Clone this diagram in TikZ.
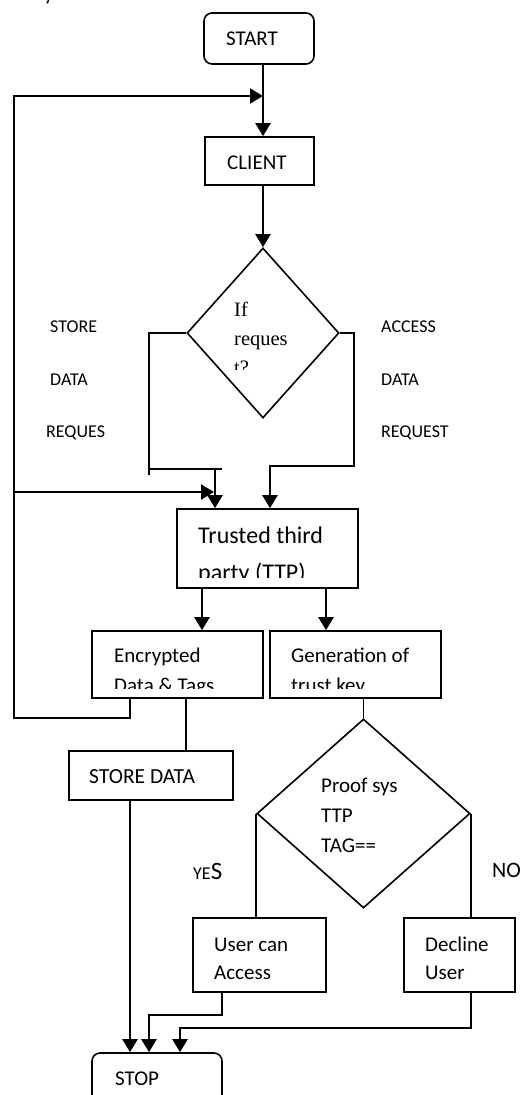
\documentclass[tikz,border=0pt]{standalone}
\usepackage{fontspec}
\setmainfont{Carlito}
\newfontfamily\timesfont{Liberation Serif}
\usetikzlibrary{shapes.geometric,arrows.meta}

\tikzset{
  box/.style={draw, rectangle, line width=1.6pt, inner sep=0pt},
  term/.style={box, rounded corners=8pt},
  dec/.style={draw, diamond, line width=1.6pt, inner sep=0pt},
  flow/.style={line width=2.3pt, -{Triangle[length=13pt,width=15pt]}},
  rail/.style={line width=2pt},
  link/.style={line width=1.7pt},
  txt/.style={anchor=base west, inner sep=0pt, font=\fontsize{21}{25}\selectfont},
  lbl/.style={txt, font=\fontsize{18}{22}\selectfont},
  big/.style={txt, font=\fontsize{24}{28}\selectfont},
  serif/.style={txt, font=\timesfont\fontsize{20.5}{25}\selectfont},
}

\begin{document}
\begin{tikzpicture}[x=1pt,y=-1pt]
\useasboundingbox (0,0) rectangle (522,1095);

% stray descender at the top edge
\node[txt] (yfrag) at (44,0) {y};

% ---------- boxes ----------
\node[term, minimum width=110pt, minimum height=51pt] (start) at (259,38.5) {};
\node[txt] (startT) at (226,45) {START};

\node[box, minimum width=109pt, minimum height=48pt] (client) at (259.5,161) {};
\node[txt] (clientT) at (227,169) {CLIENT};

\node[dec, minimum width=152pt, minimum height=170pt] (ifreq) at (263,333) {};
\begin{scope}
  \clip (220,290) rectangle (300,369);
  \node[serif] (ifA) at (234,316) {If};
  \node[serif] (ifB) at (234,345) {reques};
  \node[serif] (ifC) at (234,374) {t?};
\end{scope}

\node[lbl] (stA) at (50,332) {STORE};
\node[lbl] (stB) at (50,385) {DATA};
\node[lbl] (stC) at (46,437) {REQUES};
\node[lbl] (acA) at (381,332) {ACCESS};
\node[lbl] (acB) at (381,385) {DATA};
\node[lbl] (acC) at (381,437) {REQUEST};

\node[box, minimum width=181pt, minimum height=79pt] (ttp) at (267.5,548.5) {};
\begin{scope}
  \clip (177,509) rectangle (358,577);
  \node[big] (ttpA) at (198,543) {Trusted third};
  \node[big] (ttpB) at (198,580) {party (TTP)};
\end{scope}

\node[box, minimum width=171pt, minimum height=67pt] (encr) at (177.5,664.5) {};
\begin{scope}
  \clip (92,631) rectangle (263,688);
  \node[txt] (encA) at (114,662) {Encrypted};
  \node[txt] (encB) at (114,692) {Data \& Tags};
\end{scope}

\node[box, minimum width=171pt, minimum height=67pt] (gen) at (355.5,664.5) {};
\begin{scope}
  \clip (270,631) rectangle (441,688);
  \node[txt] (genA) at (291,662) {Generation of};
  \node[txt] (genB) at (291,692) {trust key};
\end{scope}

\node[box, minimum width=164pt, minimum height=49pt] (store) at (151,775.5) {};
\node[txt, font=\fontsize{21.5}{25}\selectfont] (storeT) at (89,783) {STORE DATA};

\node[dec, minimum width=213pt, minimum height=189pt] (proof) at (363.5,813.5) {};
\node[txt] (prA) at (321,792) {Proof sys};
\node[txt] (prB) at (321,822) {TTP};
\node[txt] (prC) at (321,852) {TAG==};

\node[txt] (yes) at (193,879) {{\fontsize{18}{20}\selectfont YE}{\fontsize{25}{28}\selectfont S}};
\node[txt, font=\fontsize{22}{26}\selectfont] (no) at (492,877) {NO};

\node[box, minimum width=133pt, minimum height=74pt] (user) at (259.5,955) {};
\node[txt] (userA) at (214,951) {User can};
\node[txt] (userB) at (214,979) {Access};

\node[box, minimum width=111pt, minimum height=74pt] (decl) at (459.5,955) {};
\node[txt] (declA) at (425,951) {Decline};
\node[txt] (declB) at (425,979) {User};

\node[term, minimum width=130pt, minimum height=60pt] (stop) at (157,1083) {};
\node[txt] (stopT) at (115,1085) {STOP};

% ---------- helper points ----------
\coordinate (mainx) at (263,0);
\coordinate (rail) at (14,0);
\coordinate (loopTop) at (263,96);
\coordinate (loopMid) at (214,492);
\coordinate (sLb) at (149,475);
\coordinate (sJa) at (149,469);
\coordinate (sJb) at (222,469);
\coordinate (sx) at (215,469);
\coordinate (aR) at (354,466);
\coordinate (ax) at (270,0);
\coordinate (ex) at (202,0);
\coordinate (gx) at (326,0);
\coordinate (encx) at (130,718);
\coordinate (sdx) at (186,0);
\coordinate (ux) at (222,1015);
\coordinate (ux2) at (149,0);
\coordinate (dx) at (471,1028);
\coordinate (dx2) at (180,0);

% ---------- connectors ----------
\draw[flow] (start.south -| mainx) -- (client.north -| mainx);
\draw[flow] (client.south -| mainx) -- (ifreq.north);

% store branch
\draw[rail] (ifreq.west) -| (sLb);
\draw[rail] (sJa) -- (sJb);
\draw[flow] (sx) -- (ttp.north -| sx);
% access branch
\draw[flow] (ifreq.east) -| (aR) -| (ttp.north -| ax);

% loops back
\draw[flow] (encr.south -| encx) -- (encx) -| (loopTop -| rail) -- (loopTop);
\draw[flow] (loopMid -| rail) -- (loopMid);

\draw[flow] (ttp.south -| ex) -- (encr.north -| ex);
\draw[flow] (ttp.south -| gx) -- (gen.north -| gx);

\draw[link] (encr.south -| sdx) -- (store.north -| sdx);
\draw[link] (gen.south -| proof.north) -- (proof.north);
\draw[link] (proof.west) -- (user.north -| proof.west);
\draw[link] (proof.east) -- (decl.north -| proof.east);

\draw[flow] (store.south -| encx) -- (stop.north -| encx);
\draw[flow] (user.south -| ux) -- (ux) -| (stop.north -| ux2);
\draw[flow] (decl.south -| dx) -- (dx) -| (stop.north -| dx2);
\end{tikzpicture}
\end{document}
